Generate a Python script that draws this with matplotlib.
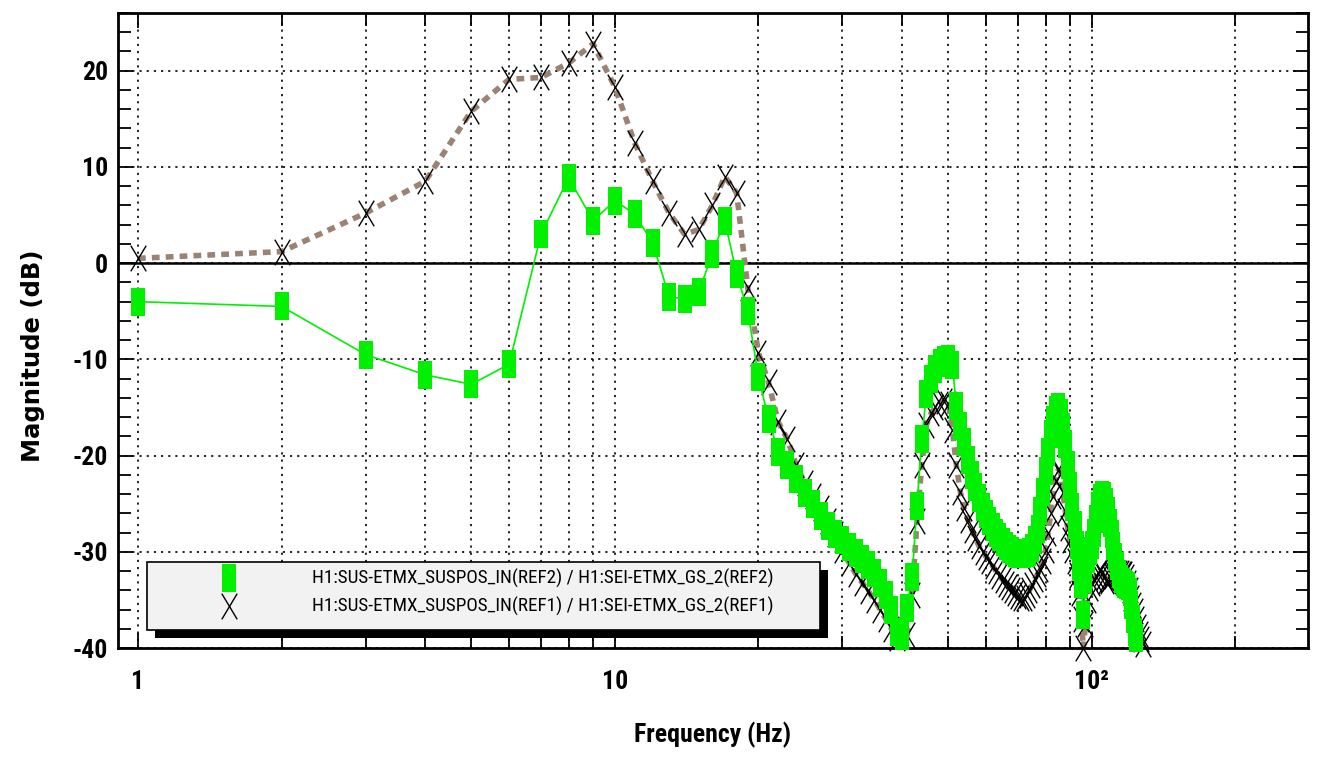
import numpy as np
import matplotlib
matplotlib.use('Agg')
import matplotlib.pyplot as plt
from matplotlib.path import Path
from matplotlib.patches import Rectangle
from matplotlib.lines import Line2D
from matplotlib.ticker import FixedLocator, MultipleLocator, FuncFormatter, NullFormatter

plt.rcParams['axes.unicode_minus'] = False

# REF2 (green squares), 1 Hz steps
freq_ref2 = np.arange(1, 125)
mag_ref2 = [
    -4.0, -4.5, -9.5, -11.6, -12.6, -10.5, 3.0, 8.9, 4.4, 6.5,
    5.1, 2.1, -3.5, -3.7, -3.0, 1.0, 4.4, -1.1, -5.0, -11.8,
    -16.2, -19.6, -21.0, -22.4, -23.9, -25.0, -26.3, -27.3, -28.2, -28.8,
    -29.5, -30.1, -30.8, -31.4, -32.2, -33.2, -34.5, -36.0, -38.3, -38.8,
    -35.8, -32.6, -25.2, -18.3, -13.6, -12.0, -11.0, -10.4, -10.1, -10.0,
    -10.6, -14.8, -16.9, -18.6, -20.5, -22.0, -23.3, -24.4, -25.3, -26.1,
    -26.8, -27.4, -28.0, -28.5, -29.0, -29.4, -29.7, -29.9, -30.1, -30.2,
    -30.2, -30.2, -30.1, -30.0, -29.6, -28.8, -27.6, -25.8, -23.8, -21.6,
    -19.6, -17.8, -16.3, -15.3, -15.0, -15.6, -17.0, -18.8, -21.0, -23.2,
    -25.3, -27.2, -29.3, -31.5, -33.3, -36.6, -32.8, -30.8, -29.9, -29.3,
    -28.0, -26.6, -25.2, -24.4, -24.1, -24.2, -24.8, -25.8, -27.0, -28.2,
    -29.4, -30.5, -31.5, -32.3, -32.8, -33.1, -33.3, -33.4, -33.6, -34.2,
    -35.5, -37.0, -38.3, -39.0,
]

# REF1 (black crosses + brown dashed line)
freq_ref1 = np.arange(1, 129)
mag_ref1 = [
    0.5, 1.2, 5.2, 8.5, 15.8, 19.1, 19.3, 20.8, 22.8, 18.3,
    12.5, 8.5, 5.2, 3.0, 3.5, 6.0, 9.0, 7.3, -2.6, -9.3,
    -12.4, -16.5, -18.3, -21.0, -22.8, -24.2, -25.5, -26.8, -28.2, -29.8,
    -31.2, -32.3, -33.2, -34.1, -35.0, -36.0, -37.0, -38.0, -39.0, -41.0,
    -38.6, -34.5, -26.8, -21.0, -16.8, -15.6, -15.0, -14.6, -14.3, -14.6,
    -17.3, -21.0, -23.8, -25.5, -26.7, -27.7, -28.6, -29.4, -30.0, -30.5,
    -31.0, -31.5, -32.0, -32.5, -32.9, -33.3, -33.7, -34.0, -34.3, -34.6,
    -34.8, -34.8, -34.5, -34.0, -33.4, -32.8, -32.3, -31.8, -31.0, -29.8,
    -28.0, -26.0, -24.2, -22.6, -21.5, -21.8, -23.8, -25.8, -27.5, -28.8,
    -29.8, -31.0, -32.4, -34.3, -37.0, -40.0, -37.5, -35.0, -33.8, -33.2,
    -32.8, -32.5, -32.2, -32.0, -32.2, -32.6, -33.0, -33.0, -32.7, -32.5,
    -32.3, -32.2, -32.2, -32.2, -32.2, -32.3, -32.3, -32.6, -33.2, -34.0,
    -34.8, -35.5, -36.2, -37.0, -37.8, -38.5, -39.1, -39.6,
]

label_ref2 = 'H1:SUS-ETMX_SUSPOS_IN(REF2) / H1:SEI-ETMX_GS_2(REF2)'
label_ref1 = 'H1:SUS-ETMX_SUSPOS_IN(REF1) / H1:SEI-ETMX_GS_2(REF1)'

green = '#00f000'
brown = '#9c8272'
narrow = ['Roboto Condensed', 'DejaVu Sans']

box = Path([(-0.52, -1), (0.52, -1), (0.52, 1), (-0.52, 1), (-0.52, -1)], closed=True)
cross = Path([(-0.6, -1), (0.6, 1), (-0.6, 1), (0.6, -1)],
             [Path.MOVETO, Path.LINETO, Path.MOVETO, Path.LINETO])

W, H = 1327, 759
fig = plt.figure(figsize=(W / 100, H / 100), dpi=100)
ax = fig.add_axes([118 / W, 1 - 648 / H, (1308 - 118) / W, (648 - 13) / H])

ylo, yhi = -40, 26
ax.set_xscale('log')
ax.set_xlim(0.908, 284)
ax.set_ylim(ylo, yhi)

# lines (clipped at the frame)
ax.plot(freq_ref1, mag_ref1, color=brown, lw=4.0, ls=(0, (1.4, 1.1)),
        dash_capstyle='butt', zorder=2)
ax.plot(freq_ref2, mag_ref2, color=green, lw=1.2, zorder=3)

# markers (only points inside the y range, not clipped by the frame)
m1 = np.ma.masked_outside(mag_ref1, ylo, yhi)
m2 = np.ma.masked_outside(mag_ref2, ylo, yhi)
ax.plot(freq_ref1, m1, ls='none', marker=cross, ms=18.5, mec='black', mfc='none',
        mew=1.0, clip_on=False, zorder=2.5)
ax.plot(freq_ref2, m2, ls='none', marker=box, ms=20, mec=green, mfc=green,
        mew=0, clip_on=False, zorder=3.5)

# grid + zero line
ax.grid(True, which='both', axis='x', color='black', ls=(0, (1.3, 3)), lw=1.2)
ax.grid(True, which='major', axis='y', color='black', ls=(0, (1.3, 3)), lw=1.2)
ax.axhline(0, color='black', lw=1.8, zorder=1.5)

ax.xaxis.set_major_locator(FixedLocator([1, 10, 100]))
ax.xaxis.set_minor_locator(FixedLocator([2, 3, 4, 5, 6, 7, 8, 9,
                                         20, 30, 40, 50, 60, 70, 80, 90, 200]))
ax.xaxis.set_major_formatter(FuncFormatter(lambda v, p: {1: '1', 10: '10', 100: '10²'}.get(int(round(v)), '')))
ax.xaxis.set_minor_formatter(NullFormatter())
ax.yaxis.set_major_locator(MultipleLocator(10))
ax.yaxis.set_minor_locator(MultipleLocator(2))
ax.yaxis.set_major_formatter(FuncFormatter(lambda v, p: '%d' % v))

ax.tick_params(which='both', direction='in', top=True, right=True, width=1.3)
ax.tick_params(which='major', length=11)
ax.tick_params(which='minor', length=9)
ax.tick_params(axis='x', which='major', pad=16)
ax.tick_params(axis='y', which='major', pad=7)
for lab in ax.get_xticklabels() + ax.get_yticklabels():
    lab.set_family(narrow)
    lab.set_fontweight('bold')
    lab.set_fontsize(18.5)

for s in ax.spines.values():
    s.set_linewidth(2.0)

ax.set_xlabel('Frequency (Hz)', family=narrow, fontweight='bold', fontsize=18.5, va='center')
ax.xaxis.set_label_coords(0.5, -(735 - 648) / 635)
ax.set_ylabel('Magnitude (dB)', family='DejaVu Sans', fontweight='bold', fontsize=17.5, va='center')
ax.yaxis.set_label_coords((33 - 118) / 1190, (648 - 356) / 635)

# legend box with black shadow
def fx(x):
    return x / W

def fy(y):
    return 1 - y / H

fig.add_artist(Rectangle((fx(155), fy(638)), fx(828) - fx(155), fy(570) - fy(638),
                         transform=fig.transFigure, facecolor='black', edgecolor='none', zorder=5))
fig.add_artist(Rectangle((fx(147), fy(630)), fx(820) - fx(147), fy(562) - fy(630),
                         transform=fig.transFigure, facecolor='#f2f2f2', edgecolor='black',
                         lw=1.2, zorder=5.1))
fig.add_artist(Line2D([fx(229)], [fy(578)], transform=fig.transFigure, marker=box, ms=20,
                      mfc=green, mec=green, mew=0, ls='none', zorder=5.2))
fig.add_artist(Line2D([fx(229)], [fy(606)], transform=fig.transFigure, marker=cross, ms=18.5,
                      mfc='none', mec='black', mew=1.0, ls='none', zorder=5.2))
fig.text(fx(312), fy(578), label_ref2, family=narrow, fontsize=13.8, va='center', ha='left', zorder=5.3)
fig.text(fx(312), fy(606), label_ref1, family=narrow, fontsize=13.8, va='center', ha='left', zorder=5.3)

fig.savefig('out.png', dpi=100)
